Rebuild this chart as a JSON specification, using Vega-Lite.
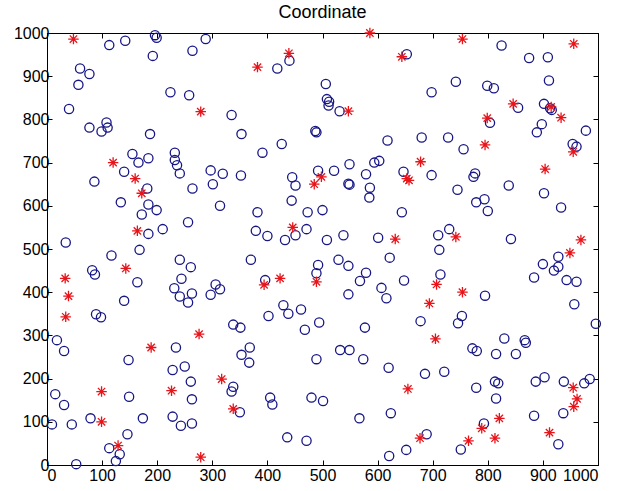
{
  "$schema": "https://vega.github.io/schema/vega-lite/v6.json",
  "width": 551,
  "height": 432,
  "autosize": "none",
  "padding": {"left": 47, "top": 33, "right": 23, "bottom": 26},
  "background": "white",
  "title": {"text": "Coordinate", "fontSize": 18, "font": "Liberation Sans", "fontWeight": "normal", "color": "black", "offset": 3},
  "config": {
    "view": {"stroke": "black", "strokeWidth": 1},
    "axis": {"grid": false, "domainColor": "black", "tickColor": "black", "labelColor": "black", "labelFont": "Liberation Sans", "labelFontSize": 16, "title": null, "tickSize": -5, "labelPadding": 3, "format": "d"},
    "axisBottom": {"labelPadding": 7}
  },
  "datasets": {
    "pts": [
      {"x":113,"y":972,"t":"o"},{"x":142,"y":982,"t":"o"},{"x":196,"y":995,"t":"o"},{"x":199,"y":989,"t":"o"},{"x":192,"y":947,"t":"o"},{"x":264,"y":959,"t":"o"},{"x":288,"y":986,"t":"o"},{"x":60,"y":918,"t":"o"},{"x":77,"y":905,"t":"o"},{"x":57,"y":880,"t":"o"},{"x":40,"y":824,"t":"o"},{"x":224,"y":863,"t":"o"},{"x":258,"y":856,"t":"o"},{"x":335,"y":810,"t":"o"},{"x":77,"y":781,"t":"o"},{"x":99,"y":772,"t":"o"},{"x":108,"y":793,"t":"o"},{"x":110,"y":781,"t":"o"},{"x":187,"y":766,"t":"o"},{"x":155,"y":720,"t":"o"},{"x":166,"y":700,"t":"o"},{"x":184,"y":710,"t":"o"},{"x":232,"y":723,"t":"o"},{"x":232,"y":706,"t":"o"},{"x":236,"y":694,"t":"o"},{"x":241,"y":675,"t":"o"},{"x":140,"y":679,"t":"o"},{"x":297,"y":682,"t":"o"},{"x":319,"y":674,"t":"o"},{"x":86,"y":656,"t":"o"},
      {"x":418,"y":918,"t":"o"},{"x":440,"y":936,"t":"o"},{"x":653,"y":951,"t":"o"},{"x":506,"y":882,"t":"o"},{"x":508,"y":847,"t":"o"},{"x":512,"y":841,"t":"o"},{"x":511,"y":832,"t":"o"},{"x":531,"y":819,"t":"o"},{"x":353,"y":766,"t":"o"},{"x":487,"y":773,"t":"o"},{"x":489,"y":770,"t":"o"},{"x":426,"y":743,"t":"o"},{"x":391,"y":723,"t":"o"},{"x":618,"y":751,"t":"o"},{"x":549,"y":696,"t":"o"},{"x":594,"y":700,"t":"o"},{"x":603,"y":704,"t":"o"},
      {"x":825,"y":971,"t":"o"},{"x":875,"y":942,"t":"o"},{"x":909,"y":944,"t":"o"},{"x":698,"y":863,"t":"o"},{"x":742,"y":887,"t":"o"},{"x":799,"y":878,"t":"o"},{"x":811,"y":872,"t":"o"},{"x":911,"y":890,"t":"o"},{"x":855,"y":827,"t":"o"},{"x":902,"y":836,"t":"o"},{"x":913,"y":826,"t":"o"},{"x":916,"y":822,"t":"o"},{"x":804,"y":792,"t":"o"},{"x":898,"y":789,"t":"o"},{"x":889,"y":770,"t":"o"},{"x":978,"y":774,"t":"o"},{"x":680,"y":758,"t":"o"},{"x":728,"y":758,"t":"o"},{"x":756,"y":731,"t":"o"},{"x":954,"y":743,"t":"o"},{"x":961,"y":737,"t":"o"},{"x":698,"y":671,"t":"o"},{"x":777,"y":675,"t":"o"},{"x":774,"y":667,"t":"o"},
      {"x":182,"y":640,"t":"o"},{"x":264,"y":640,"t":"o"},{"x":301,"y":650,"t":"o"},{"x":134,"y":608,"t":"o"},{"x":184,"y":603,"t":"o"},{"x":199,"y":590,"t":"o"},{"x":172,"y":580,"t":"o"},{"x":314,"y":600,"t":"o"},{"x":256,"y":562,"t":"o"},{"x":184,"y":535,"t":"o"},{"x":210,"y":546,"t":"o"},{"x":34,"y":515,"t":"o"},{"x":168,"y":498,"t":"o"},{"x":117,"y":485,"t":"o"},{"x":241,"y":475,"t":"o"},{"x":261,"y":458,"t":"o"},{"x":82,"y":451,"t":"o"},{"x":87,"y":441,"t":"o"},{"x":164,"y":423,"t":"o"},{"x":244,"y":431,"t":"o"},{"x":231,"y":409,"t":"o"},{"x":241,"y":390,"t":"o"},{"x":263,"y":397,"t":"o"},{"x":256,"y":376,"t":"o"},{"x":306,"y":418,"t":"o"},{"x":314,"y":407,"t":"o"},{"x":297,"y":394,"t":"o"},{"x":140,"y":380,"t":"o"},{"x":89,"y":349,"t":"o"},{"x":98,"y":342,"t":"o"},{"x":338,"y":325,"t":"o"},{"x":351,"y":318,"t":"o"},
      {"x":352,"y":670,"t":"o"},{"x":445,"y":666,"t":"o"},{"x":451,"y":647,"t":"o"},{"x":492,"y":681,"t":"o"},{"x":521,"y":681,"t":"o"},{"x":547,"y":651,"t":"o"},{"x":549,"y":649,"t":"o"},{"x":579,"y":673,"t":"o"},{"x":586,"y":642,"t":"o"},{"x":585,"y":619,"t":"o"},{"x":647,"y":679,"t":"o"},{"x":444,"y":612,"t":"o"},{"x":382,"y":585,"t":"o"},{"x":473,"y":585,"t":"o"},{"x":500,"y":590,"t":"o"},{"x":644,"y":585,"t":"o"},{"x":379,"y":542,"t":"o"},{"x":400,"y":530,"t":"o"},{"x":432,"y":521,"t":"o"},{"x":451,"y":532,"t":"o"},{"x":471,"y":546,"t":"o"},{"x":508,"y":521,"t":"o"},{"x":538,"y":532,"t":"o"},{"x":601,"y":526,"t":"o"},{"x":370,"y":475,"t":"o"},{"x":492,"y":463,"t":"o"},{"x":489,"y":444,"t":"o"},{"x":529,"y":475,"t":"o"},{"x":547,"y":461,"t":"o"},{"x":622,"y":480,"t":"o"},{"x":579,"y":445,"t":"o"},{"x":568,"y":426,"t":"o"},{"x":648,"y":427,"t":"o"},{"x":607,"y":410,"t":"o"},{"x":616,"y":386,"t":"o"},{"x":396,"y":428,"t":"o"},{"x":547,"y":395,"t":"o"},{"x":429,"y":370,"t":"o"},{"x":438,"y":350,"t":"o"},{"x":461,"y":360,"t":"o"},{"x":402,"y":345,"t":"o"},
      {"x":745,"y":637,"t":"o"},{"x":838,"y":647,"t":"o"},{"x":902,"y":629,"t":"o"},{"x":779,"y":608,"t":"o"},{"x":794,"y":615,"t":"o"},{"x":800,"y":588,"t":"o"},{"x":933,"y":596,"t":"o"},{"x":710,"y":532,"t":"o"},{"x":730,"y":546,"t":"o"},{"x":712,"y":498,"t":"o"},{"x":842,"y":523,"t":"o"},{"x":928,"y":482,"t":"o"},{"x":928,"y":459,"t":"o"},{"x":920,"y":450,"t":"o"},{"x":900,"y":465,"t":"o"},{"x":884,"y":434,"t":"o"},{"x":943,"y":428,"t":"o"},{"x":961,"y":424,"t":"o"},{"x":714,"y":441,"t":"o"},{"x":795,"y":392,"t":"o"},{"x":957,"y":372,"t":"o"},{"x":753,"y":345,"t":"o"},{"x":746,"y":328,"t":"o"},{"x":678,"y":333,"t":"o"},{"x":996,"y":327,"t":"o"},
      {"x":18,"y":289,"t":"o"},{"x":31,"y":264,"t":"o"},{"x":234,"y":272,"t":"o"},{"x":148,"y":243,"t":"o"},{"x":228,"y":220,"t":"o"},{"x":250,"y":228,"t":"o"},{"x":261,"y":193,"t":"o"},{"x":263,"y":152,"t":"o"},{"x":15,"y":164,"t":"o"},{"x":31,"y":139,"t":"o"},{"x":149,"y":158,"t":"o"},{"x":338,"y":181,"t":"o"},{"x":335,"y":170,"t":"o"},{"x":9,"y":94,"t":"o"},{"x":45,"y":94,"t":"o"},{"x":79,"y":108,"t":"o"},{"x":174,"y":108,"t":"o"},{"x":228,"y":112,"t":"o"},{"x":243,"y":91,"t":"o"},{"x":263,"y":96,"t":"o"},{"x":146,"y":71,"t":"o"},{"x":113,"y":39,"t":"o"},{"x":132,"y":25,"t":"o"},{"x":125,"y":9,"t":"o"},{"x":53,"y":2,"t":"o"},
      {"x":468,"y":313,"t":"o"},{"x":494,"y":330,"t":"o"},{"x":577,"y":318,"t":"o"},{"x":368,"y":272,"t":"o"},{"x":353,"y":255,"t":"o"},{"x":367,"y":237,"t":"o"},{"x":532,"y":266,"t":"o"},{"x":549,"y":266,"t":"o"},{"x":489,"y":245,"t":"o"},{"x":574,"y":245,"t":"o"},{"x":620,"y":225,"t":"o"},{"x":350,"y":122,"t":"o"},{"x":405,"y":156,"t":"o"},{"x":409,"y":140,"t":"o"},{"x":480,"y":156,"t":"o"},{"x":501,"y":148,"t":"o"},{"x":567,"y":108,"t":"o"},{"x":624,"y":120,"t":"o"},{"x":436,"y":64,"t":"o"},{"x":471,"y":56,"t":"o"},{"x":621,"y":21,"t":"o"},{"x":652,"y":35,"t":"o"},
      {"x":772,"y":270,"t":"o"},{"x":780,"y":264,"t":"o"},{"x":815,"y":257,"t":"o"},{"x":830,"y":293,"t":"o"},{"x":851,"y":257,"t":"o"},{"x":867,"y":289,"t":"o"},{"x":869,"y":283,"t":"o"},{"x":686,"y":211,"t":"o"},{"x":721,"y":216,"t":"o"},{"x":779,"y":179,"t":"o"},{"x":813,"y":193,"t":"o"},{"x":819,"y":189,"t":"o"},{"x":815,"y":154,"t":"o"},{"x":887,"y":193,"t":"o"},{"x":903,"y":203,"t":"o"},{"x":938,"y":193,"t":"o"},{"x":975,"y":189,"t":"o"},{"x":985,"y":199,"t":"o"},{"x":937,"y":120,"t":"o"},{"x":884,"y":114,"t":"o"},{"x":793,"y":96,"t":"o"},{"x":928,"y":48,"t":"o"},{"x":751,"y":36,"t":"o"},{"x":689,"y":71,"t":"o"},
      {"x":48,"y":986,"t":"*"},{"x":279,"y":818,"t":"*"},{"x":382,"y":921,"t":"*"},{"x":439,"y":953,"t":"*"},{"x":586,"y":1000,"t":"*"},{"x":644,"y":945,"t":"*"},{"x":754,"y":986,"t":"*"},{"x":956,"y":975,"t":"*"},{"x":547,"y":819,"t":"*"},{"x":846,"y":836,"t":"*"},{"x":915,"y":829,"t":"*"},{"x":933,"y":804,"t":"*"},{"x":799,"y":803,"t":"*"},{"x":795,"y":741,"t":"*"},{"x":955,"y":725,"t":"*"},{"x":678,"y":702,"t":"*"},{"x":904,"y":685,"t":"*"},{"x":120,"y":700,"t":"*"},{"x":160,"y":663,"t":"*"},{"x":172,"y":629,"t":"*"},{"x":164,"y":542,"t":"*"},{"x":143,"y":455,"t":"*"},{"x":33,"y":432,"t":"*"},{"x":39,"y":391,"t":"*"},{"x":34,"y":343,"t":"*"},{"x":498,"y":667,"t":"*"},{"x":485,"y":650,"t":"*"},{"x":653,"y":663,"t":"*"},{"x":657,"y":659,"t":"*"},{"x":446,"y":550,"t":"*"},{"x":632,"y":523,"t":"*"},{"x":489,"y":424,"t":"*"},{"x":394,"y":417,"t":"*"},{"x":423,"y":432,"t":"*"},{"x":742,"y":528,"t":"*"},{"x":969,"y":521,"t":"*"},{"x":949,"y":491,"t":"*"},{"x":707,"y":418,"t":"*"},{"x":754,"y":400,"t":"*"},{"x":694,"y":374,"t":"*"},{"x":276,"y":303,"t":"*"},{"x":189,"y":272,"t":"*"},{"x":317,"y":199,"t":"*"},{"x":226,"y":172,"t":"*"},{"x":99,"y":170,"t":"*"},{"x":338,"y":130,"t":"*"},{"x":99,"y":100,"t":"*"},{"x":129,"y":45,"t":"*"},{"x":279,"y":18,"t":"*"},{"x":655,"y":176,"t":"*"},{"x":677,"y":62,"t":"*"},{"x":705,"y":292,"t":"*"},{"x":821,"y":108,"t":"*"},{"x":789,"y":85,"t":"*"},{"x":912,"y":75,"t":"*"},{"x":813,"y":62,"t":"*"},{"x":765,"y":56,"t":"*"},{"x":955,"y":179,"t":"*"},{"x":962,"y":153,"t":"*"},{"x":956,"y":135,"t":"*"}
    ]
  },
  "data": {"name": "pts"},
  "layer": [
    {
      "transform": [{"filter": "datum.t === 'o'"}],
      "mark": {"type": "point", "shape": "circle", "filled": false, "stroke": "#161685", "strokeWidth": 1.3, "size": 85, "opacity": 1, "clip": false},
      "encoding": {
        "x": {"field": "x", "type": "quantitative", "scale": {"domain": [0, 1000], "nice": false, "zero": false}, "axis": {"orient": "bottom", "values": [0,100,200,300,400,500,600,700,800,900,1000]}},
        "y": {"field": "y", "type": "quantitative", "scale": {"domain": [0, 1000], "nice": false, "zero": false}, "axis": {"orient": "left", "values": [0,100,200,300,400,500,600,700,800,900,1000]}}
      }
    },
    {
      "transform": [{"filter": "datum.t === '*'"}],
      "mark": {"type": "point", "shape": "M-1,0L1,0M0,-1L0,1M-0.7,-0.7L0.7,0.7M-0.7,0.7L0.7,-0.7", "filled": false, "stroke": "#e8141a", "strokeWidth": 1.3, "size": 110, "opacity": 1, "clip": false},
      "encoding": {
        "x": {"field": "x", "type": "quantitative", "axis": {"orient": "top", "labels": false, "values": [0,100,200,300,400,500,600,700,800,900,1000]}},
        "y": {"field": "y", "type": "quantitative", "axis": {"orient": "right", "labels": false, "values": [0,100,200,300,400,500,600,700,800,900,1000]}}
      }
    }
  ],
  "resolve": {"axis": {"x": "independent", "y": "independent"}}
}
